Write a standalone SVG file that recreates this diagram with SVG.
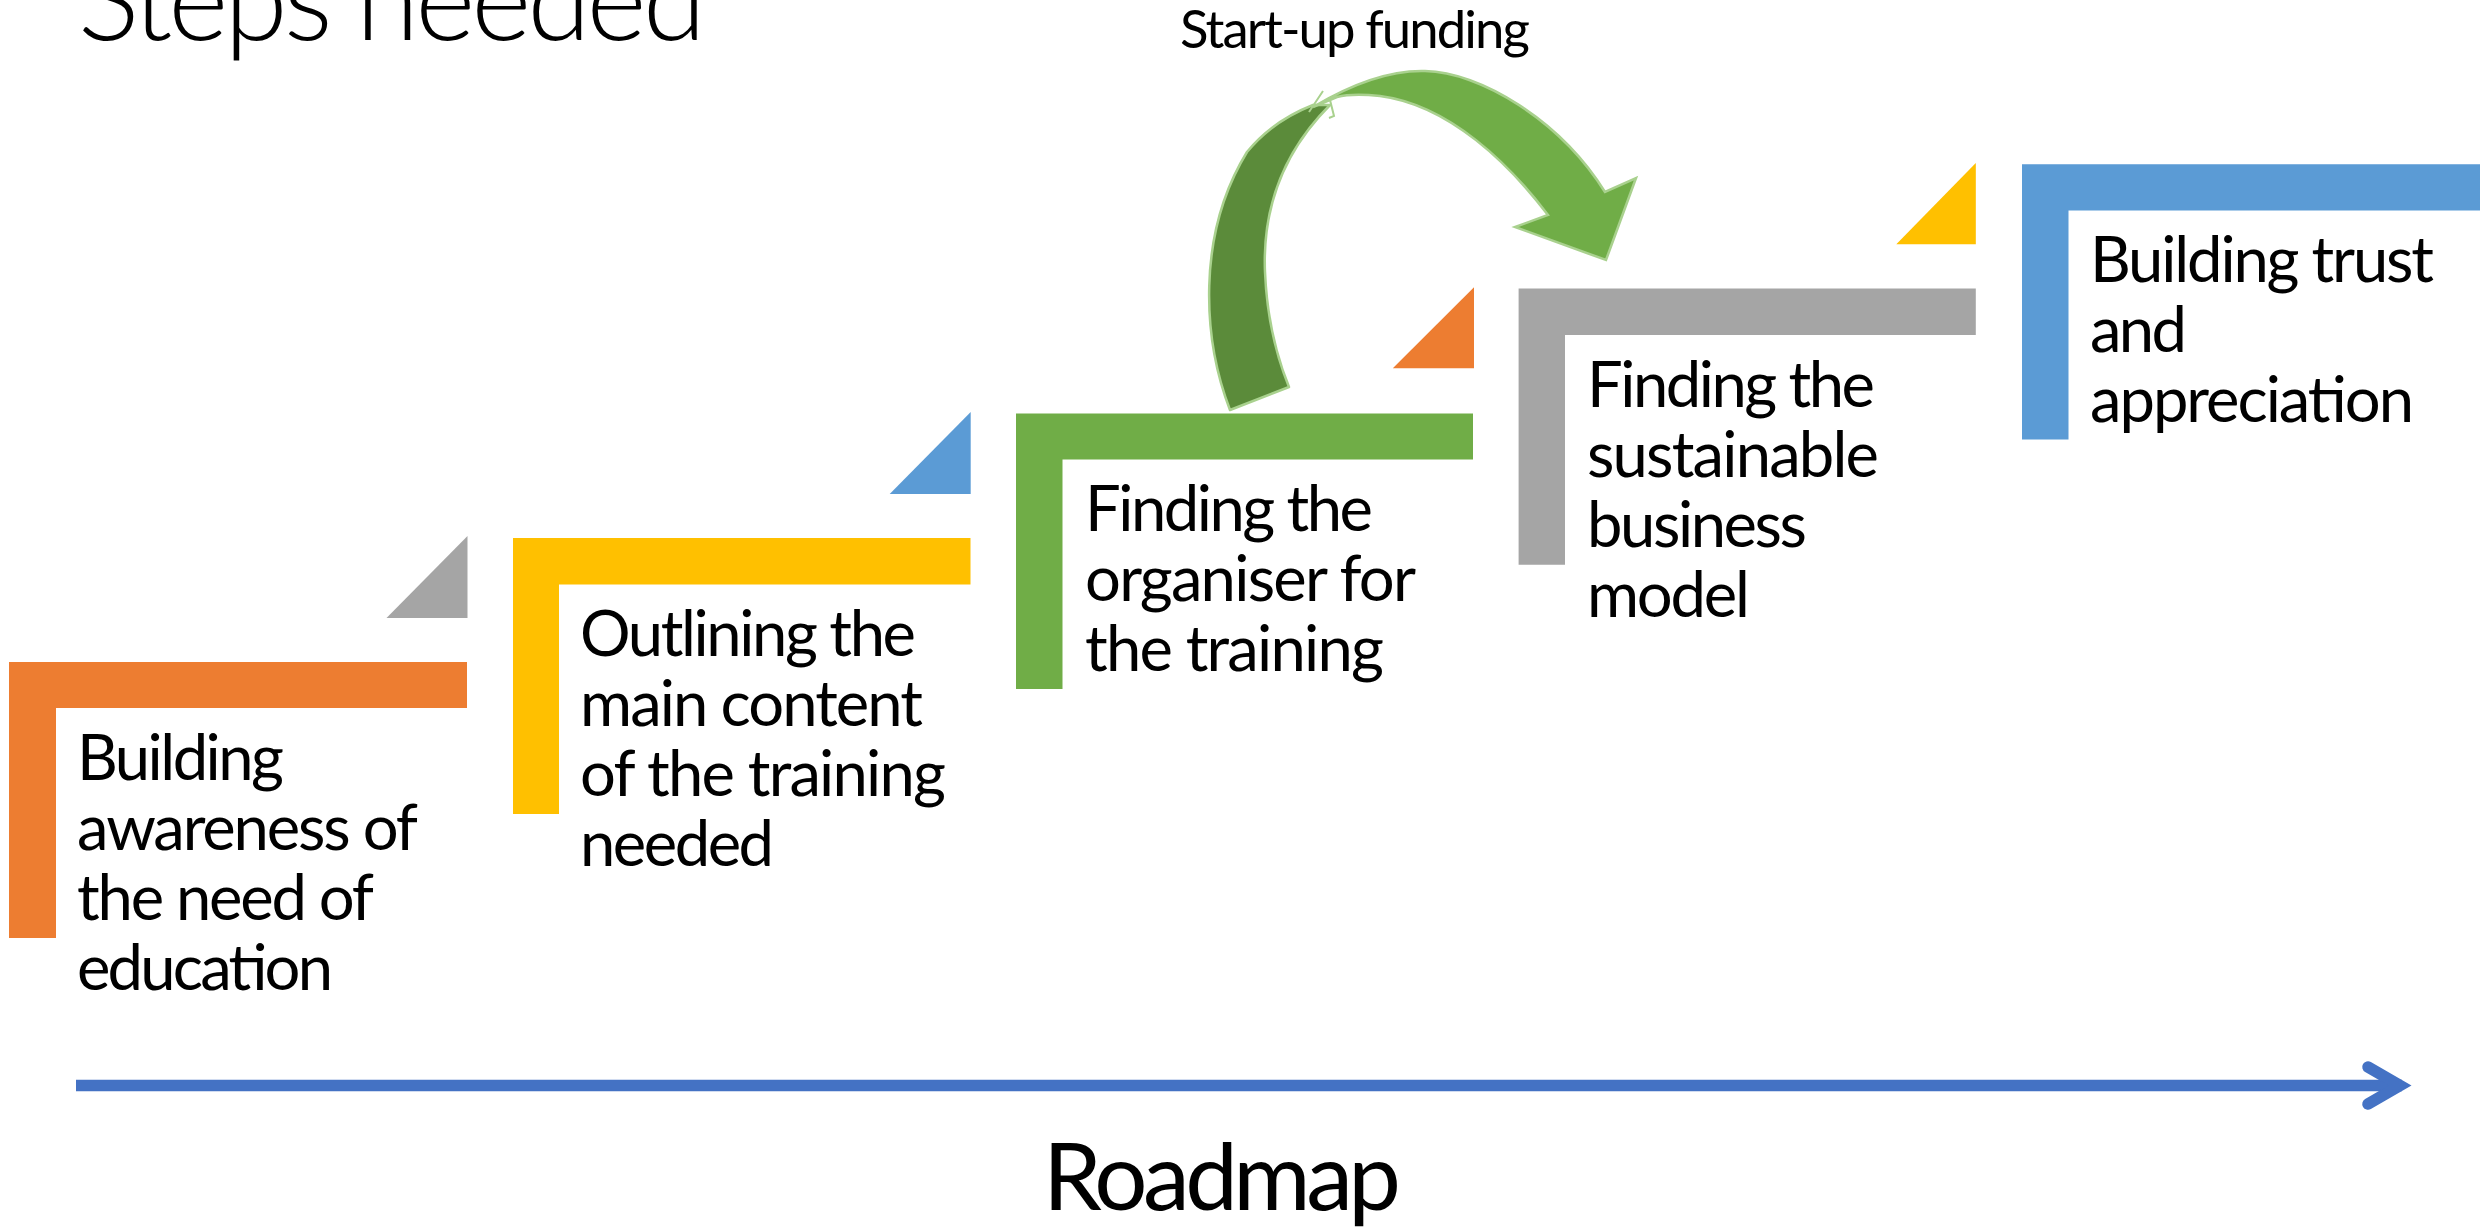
<svg xmlns="http://www.w3.org/2000/svg" width="2484" height="1227" viewBox="0 0 2484 1227">
<style>
  .t { font-family: Lato, "Open Sans", "Liberation Sans", sans-serif; font-size: 63.3px; fill: #000; }
  .title { font-family: Lato, "Open Sans", "Liberation Sans", sans-serif; font-weight: 300; font-size: 115px; fill: #000; }
  .lbl { font-family: Lato, "Open Sans", "Liberation Sans", sans-serif; font-size: 52.7px; fill: #000; }
  .road { font-family: Lato, "Open Sans", "Liberation Sans", sans-serif; font-size: 94px; fill: #000; }
  .orange { fill: #ED7D31; }
  .yellow { fill: #FFC000; }
  .green { fill: #70AD47; }
  .gray { fill: #A5A5A5; }
  .blue { fill: #5B9BD5; }
</style>
<rect width="2484" height="1227" fill="#FFFFFF"/>

<text class="title" x="78" y="40" textLength="628" lengthAdjust="spacing">Steps needed</text>

<g id="step1">
  <path class="orange" d="M9,662 H467 V708 H56 V938 H9 Z"/>
  <text class="t" x="77" y="780" textLength="207" lengthAdjust="spacing">Building</text>
  <text class="t" x="77" y="850" textLength="341" lengthAdjust="spacing">awareness of</text>
  <text class="t" x="77" y="920" textLength="297" lengthAdjust="spacing">the need of</text>
  <text class="t" x="77" y="990" textLength="256" lengthAdjust="spacing">education</text>
</g>
<path id="tri1" class="gray" d="M467.5,536 L386.5,618 L467.5,618 Z"/>

<g id="step2">
  <path class="yellow" d="M513,538 H970.5 V584.5 H559 V814 H513 Z"/>
  <text class="t" x="580" y="656" textLength="336" lengthAdjust="spacing">Outlining the</text>
  <text class="t" x="580" y="726" textLength="343" lengthAdjust="spacing">main content</text>
  <text class="t" x="580" y="796" textLength="366" lengthAdjust="spacing">of the training</text>
  <text class="t" x="580" y="866" textLength="194" lengthAdjust="spacing">needed</text>
</g>
<path id="tri2" class="blue" d="M970.7,412 L889.7,494 L970.7,494 Z"/>

<g id="step3">
  <path class="green" d="M1016,413.5 H1473 V459.5 H1062.5 V689 H1016 Z"/>
  <text class="t" x="1085" y="531" textLength="288" lengthAdjust="spacing">Finding the</text>
  <text class="t" x="1085" y="601" textLength="331" lengthAdjust="spacing">organiser for</text>
  <text class="t" x="1085" y="671" textLength="299" lengthAdjust="spacing">the training</text>
</g>
<path id="tri3" class="orange" d="M1474,287.3 L1392.8,368.3 L1474,368.3 Z"/>

<g id="step4">
  <path class="gray" d="M1518.6,288.6 H1975.8 V335 H1565 V564.7 H1518.6 Z"/>
  <text class="t" x="1587" y="407" textLength="288" lengthAdjust="spacing">Finding the</text>
  <text class="t" x="1587" y="477" textLength="292" lengthAdjust="spacing">sustainable</text>
  <text class="t" x="1587" y="547" textLength="220" lengthAdjust="spacing">business</text>
  <text class="t" x="1587" y="617" textLength="163" lengthAdjust="spacing">model</text>
</g>
<path id="tri4" class="yellow" d="M1975.8,163 L1896.3,244.2 L1975.8,244.2 Z"/>

<g id="step5">
  <path class="blue" d="M2022,164.2 H2480 V210.6 H2068.5 V439.5 H2022 Z"/>
  <text class="t" x="2090" y="282" textLength="344" lengthAdjust="spacing">Building trust</text>
  <text class="t" x="2090" y="352" textLength="97" lengthAdjust="spacing">and</text>
  <text class="t" x="2090" y="422" textLength="324" lengthAdjust="spacing">appreciation</text>
</g>

<g id="connectors">
  <!-- curved funding arrow -->
  <path fill="#5B8B3A" stroke="#A9D18E" stroke-width="2.5" stroke-linejoin="round"
        d="M1230,410 C1203,340 1196,235 1247,152 C1265,130 1290,114 1313,105 L1330,105 C1290,145 1262,200 1265,272 C1267,320 1278,360 1289,387 Z"/>
  <path fill="#70AD47" stroke="#A9D18E" stroke-width="2.5" stroke-linejoin="miter"
        d="M1313,107 C1350,85 1390,70 1425,71 C1480,72 1560,120 1605,192 L1636,178 L1606,260 L1515,227 L1548,215 C1510,165 1450,105 1380,96 C1360,94 1345,95 1337,97 Z"/>
  <path fill="none" stroke="#A9D18E" stroke-width="2" d="M1323,91 L1309,112 M1330,100 L1334,116 L1329,118"/>
  <!-- roadmap axis -->
  <line x1="76" y1="1085.5" x2="2402" y2="1085.5" stroke="#4472C4" stroke-width="11.5"/>
  <path d="M2368,1067 L2400,1085.5 L2368,1104" fill="none" stroke="#4472C4" stroke-width="11.5" stroke-linecap="round" stroke-linejoin="miter"/>
</g>

<text class="lbl" x="1180" y="48" textLength="350" lengthAdjust="spacing">Start-up funding</text>
<text class="road" x="1043" y="1210" textLength="358" lengthAdjust="spacing">Roadmap</text>
</svg>
